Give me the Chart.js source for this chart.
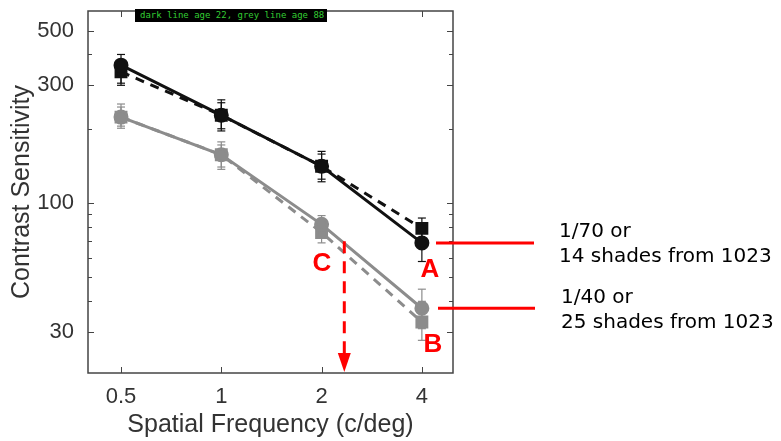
<!DOCTYPE html>
<html lang="en">
<head>
  <meta charset="UTF-8">
  <title>Contrast Sensitivity vs Spatial Frequency</title>
  <script src="https://cdn.jsdelivr.net/npm/chart.js"></script>
  <style>
    body { margin: 0; background: #fff; }
    .wrap { position: relative; width: 781px; height: 441px; }
    .tag {
      position: absolute; left: 135px; top: 9px; width: 192px; height: 13px;
      background: #000; color: #3c3; font: 9px "DejaVu Sans Mono", monospace;
      line-height: 13px; padding-left: 5px; box-sizing: border-box; white-space: nowrap;
    }
    .mark {
      position: absolute; color: #f00; font: bold 26px "Liberation Sans", Arial, sans-serif;
      line-height: 26px; transform: translate(-50%, -50%);
    }
    .note {
      position: absolute; color: #000; font: 20px "DejaVu Sans", Verdana, sans-serif;
      line-height: 25px; white-space: nowrap;
    }
  </style>
</head>
<body>
  <div class="wrap">
    <canvas id="csf" width="781" height="441"></canvas>
    <div class="tag">dark line age 22, grey line age 88</div>
    <div class="mark" style="left:322px; top:262px;">C</div>
    <div class="mark" style="left:430px; top:268px;">A</div>
    <div class="mark" style="left:433px; top:343px;">B</div>
    <div class="note" style="left:559px; top:218px;">1/70 or<br>14 shades from 1023</div>
    <div class="note" style="left:561px; top:284px;">1/40 or<br>25 shades from 1023</div>
  </div>

  <script>
    // spatial frequencies (c/deg)
    const freqs = [0.5, 1, 2, 4];
    const xTicks = [0.5, 1, 2, 4];
    const yTicks = [30, 100, 300, 500];
    const yMinor = [30, 40, 50, 60, 70, 80, 90, 100, 200, 300, 400, 500];

    // age 22 (dark)
    const youngCircle = [362, 227, 141, 69];
    const youngCircleLo = [306, 196, 122, 58];
    const youngCircleHi = [400, 262, 162, 80];
    const youngSquare = [340, 227, 141, 79];
    const youngSquareLo = [300, 200, 125, 70];
    const youngSquareHi = [380, 255, 158, 87];

    // age 88 (grey)
    const oldCircle = [223, 157, 82, 37.5];
    const oldCircleLo = [201, 137, 72, 31];
    const oldCircleHi = [252, 177, 89, 44.8];
    const oldSquare = [223, 157, 76, 33];
    const oldSquareLo = [205, 140, 69, 27.8];
    const oldSquareHi = [245, 172, 86, 40];

    // red annotation: frequency of the dashed arrow, contrast where it starts
    const arrowFreq = 2.34;
    const arrowFrom = 70;

    const dark = '#111';
    const grey = '#8c8c8c';

    function pts(vals) {
      return vals.map((v, i) => ({ x: freqs[i], y: v }));
    }

    function line(ctx, x1, y1, x2, y2) {
      ctx.beginPath();
      ctx.moveTo(x1, y1);
      ctx.lineTo(x2, y2);
      ctx.stroke();
    }

    const decor = {
      id: 'decor',
      beforeDatasetsDraw(chart) {
        const { ctx, chartArea: a, scales: { x, y } } = chart;
        ctx.save();
        ctx.strokeStyle = '#444';
        ctx.lineWidth = 1;
        // inward ticks, matlab style
        yMinor.forEach(v => {
          const py = Math.round(y.getPixelForValue(v)) + 0.5;
          const len = yTicks.includes(v) ? 6 : 4;
          line(ctx, a.left, py, a.left + len, py);
          line(ctx, a.right - len, py, a.right, py);
        });
        xTicks.forEach(v => {
          const px = Math.round(x.getPixelForValue(v)) + 0.5;
          line(ctx, px, a.bottom, px, a.bottom - 6);
          line(ctx, px, a.top, px, a.top + 6);
        });
        ctx.lineWidth = 1.5;
        ctx.strokeRect(a.left, a.top, a.right - a.left, a.bottom - a.top);

        // error bars
        chart.data.datasets.forEach(ds => {
          ctx.strokeStyle = ds.borderColor;
          ctx.lineWidth = 1.2;
          ds.data.forEach((p, i) => {
            const px = x.getPixelForValue(p.x);
            const lo = y.getPixelForValue(ds.errLo[i]);
            const hi = y.getPixelForValue(ds.errHi[i]);
            line(ctx, px, lo, px, hi);
            line(ctx, px - 4, lo, px + 4, lo);
            line(ctx, px - 4, hi, px + 4, hi);
          });
        });
        ctx.restore();
      },
      afterDatasetsDraw(chart) {
        const { ctx, chartArea: a, scales: { x, y } } = chart;
        ctx.save();
        ctx.strokeStyle = '#f00';
        ctx.fillStyle = '#f00';
        ctx.lineWidth = 3;
        // threshold markers A and B
        const ya = y.getPixelForValue(youngCircle[3]);
        const yb = y.getPixelForValue(oldCircle[3]);
        line(ctx, 436, ya, 534, ya);
        line(ctx, 438, yb, 535, yb);

        // dashed arrow C
        const ax = x.getPixelForValue(arrowFreq);
        const top = y.getPixelForValue(arrowFrom);
        ctx.setLineDash([12, 8]);
        line(ctx, ax, top, ax, a.bottom - 16);
        ctx.setLineDash([]);
        ctx.beginPath();
        ctx.moveTo(ax - 6.5, a.bottom - 20);
        ctx.lineTo(ax + 6.5, a.bottom - 20);
        ctx.lineTo(ax, a.bottom - 1);
        ctx.closePath();
        ctx.fill();
        ctx.restore();
      }
    };

    const tickFont = { family: '"Liberation Sans", Arial, sans-serif', size: 22 };
    const titleFont = { family: '"Liberation Sans", Arial, sans-serif', size: 25 };

    new Chart(document.getElementById('csf'), {
      type: 'line',
      data: {
        datasets: [
          {
            label: 'age 88 circle', data: pts(oldCircle), errLo: oldCircleLo, errHi: oldCircleHi,
            borderColor: grey, backgroundColor: grey, borderWidth: 3,
            pointStyle: 'circle', pointRadius: 6
          },
          {
            label: 'age 88 square', data: pts(oldSquare), errLo: oldSquareLo, errHi: oldSquareHi,
            borderColor: grey, backgroundColor: grey, borderWidth: 3, borderDash: [9, 7],
            pointStyle: 'rect', pointRadius: 7
          },
          {
            label: 'age 22 circle', data: pts(youngCircle), errLo: youngCircleLo, errHi: youngCircleHi,
            borderColor: dark, backgroundColor: dark, borderWidth: 3,
            pointStyle: 'circle', pointRadius: 6
          },
          {
            label: 'age 22 square', data: pts(youngSquare), errLo: youngSquareLo, errHi: youngSquareHi,
            borderColor: dark, backgroundColor: dark, borderWidth: 3, borderDash: [9, 7],
            pointStyle: 'rect', pointRadius: 7
          }
        ]
      },
      options: {
        responsive: false,
        animation: false,
        layout: { padding: { top: 11, right: 328, left: 0, bottom: 0 } },
        plugins: { legend: { display: false }, tooltip: { enabled: false } },
        scales: {
          x: {
            type: 'logarithmic',
            min: 0.398, max: 4.96,
            grid: { display: false },
            border: { display: false },
            afterBuildTicks: s => { s.ticks = xTicks.map(v => ({ value: v })); },
            afterFit: s => { s.height = 68; s.paddingLeft = 0; s.paddingRight = 0; },
            ticks: { color: '#333', font: tickFont, padding: 3, maxRotation: 0, callback: v => String(v) },
            title: { display: true, text: 'Spatial Frequency (c/deg)', color: '#333', font: titleFont, padding: { top: 0, bottom: 1 } }
          },
          y: {
            type: 'logarithmic',
            min: 20.5, max: 600,
            grid: { display: false },
            border: { display: false },
            afterBuildTicks: s => { s.ticks = yTicks.map(v => ({ value: v })); },
            afterFit: s => { s.width = 88; s.paddingTop = 0; s.paddingBottom = 0; },
            ticks: { color: '#333', font: tickFont, padding: 6, callback: v => String(v) },
            title: { display: true, text: 'Contrast Sensitivity', color: '#333', font: titleFont, padding: { top: 7, bottom: 0 } }
          }
        }
      },
      plugins: [decor]
    });
  </script>
</body>
</html>
